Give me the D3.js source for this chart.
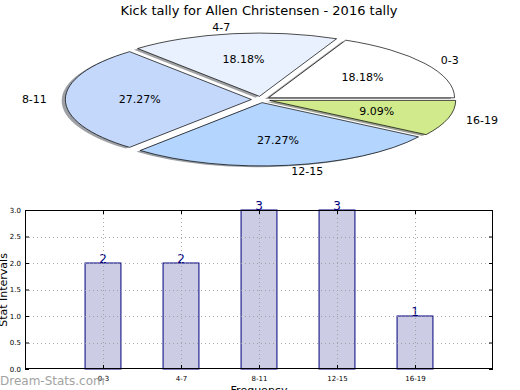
<!DOCTYPE html>
<html><head><meta charset="utf-8">
<script src="https://cdn.jsdelivr.net/npm/d3@7"></script>
<style>body{margin:0;background:#fff}svg{display:block;font-family:"DejaVu Sans",sans-serif}</style>
</head><body>
<svg id="c" width="520" height="390"></svg>
<script>
const categories = ["0-3", "4-7", "8-11", "12-15", "16-19"];
const values = [2, 2, 3, 3, 1];
const pieColors = ["#ffffff", "#e9f0fe", "#c4d8fc", "#b3d5fe", "#d0ea8c"];
const yTicks = [0, 0.5, 1.0, 1.5, 2.0, 2.5, 3.0];
const title = "Kick tally for Allen Christensen - 2016 tally";

const svg = d3.select("#c");

// ---------- Pie ----------
const cx = 260.75, cy = 99.5, rx = 186, ry = 63.3, explode = 0.05;
const total = d3.sum(values);
const pie = d3.pie().sort(null).value(d => d).startAngle(Math.PI / 2).endAngle(Math.PI / 2 - 2 * Math.PI);
const arcs = pie(values);
const arc = d3.arc().innerRadius(0).outerRadius(1);
const pg = svg.append("g").attr("transform", `translate(${cx},${cy}) scale(${rx},${ry})`);
function off(d) {
  const m = (d.startAngle + d.endAngle) / 2;
  return [Math.sin(m) * explode, -Math.cos(m) * explode];
}
function shade(c) { const k = d3.rgb(c); return d3.rgb(k.r * 0.3, k.g * 0.3, k.b * 0.3); }
// shadows
pg.selectAll("path.sh").data(arcs).join("path").attr("class", "sh")
  .attr("d", arc)
  .attr("transform", d => { const o = off(d); return `translate(${o[0] - 0.02},${o[1] + 0.02})`; })
  .attr("fill", (d, i) => shade(pieColors[i])).attr("fill-opacity", 0.5).attr("stroke", "none");
pg.selectAll("path.w").data(arcs).join("path").attr("class", "w")
  .attr("d", arc)
  .attr("transform", d => { const o = off(d); return `translate(${o[0]},${o[1]})`; })
  .attr("fill", (d, i) => pieColors[i]).attr("stroke", "#000").attr("stroke-width", 0.7)
  .attr("vector-effect", "non-scaling-stroke");
// labels
arcs.forEach((d, i) => {
  const m = (d.startAngle + d.endAngle) / 2;
  const ux = Math.sin(m), uy = -Math.cos(m);
  const lx = cx + (1.1 + explode) * rx * ux, ly = cy + (1.1 + explode) * ry * uy;
  svg.append("text").attr("x", lx).attr("y", ly).attr("dy", "0.35em")
    .attr("text-anchor", ux > 0 ? "start" : "end").attr("font-size", 11).attr("fill", "#000")
    .text(categories[i]);
  const px = cx + (0.6 + explode) * rx * ux, py = cy + (0.6 + explode) * ry * uy;
  svg.append("text").attr("x", px).attr("y", py).attr("dy", "0.35em")
    .attr("text-anchor", "middle").attr("font-size", 11).attr("fill", "#000")
    .text((values[i] / total * 100).toFixed(2) + "%");
});
svg.append("text").attr("x", 259).attr("y", 15).attr("text-anchor", "middle")
  .attr("font-size", 13).attr("fill", "#000").text(title);

// ---------- Bar chart ----------
const L = 25, R = 493, T = 210, B = 369;
const x = d3.scaleLinear().domain([-1, categories.length]).range([L, R]);
const y = d3.scaleLinear().domain([0, 3]).range([B, T]);
const bw = (x(1) - x(0)) * 0.46;
const bg = svg.append("g");
bg.selectAll("rect.bar").data(values).join("rect").attr("class", "bar")
  .attr("x", (d, i) => x(i) - bw / 2).attr("y", d => y(d))
  .attr("width", bw).attr("height", d => y(0) - y(d))
  .attr("fill", "#ccccE5").attr("stroke", "#000080").attr("stroke-width", 1);
// grid
const grid = svg.append("g").attr("stroke", "#9a9a9a").attr("stroke-width", 1).attr("stroke-dasharray", "1,3").attr("opacity", 0.85);
yTicks.slice(1, -1).forEach(t => grid.append("line").attr("x1", L).attr("x2", R).attr("y1", Math.round(y(t)) + 0.5).attr("y2", Math.round(y(t)) + 0.5));
categories.forEach((c, i) => grid.append("line").attr("x1", Math.round(x(i)) + 0.5).attr("x2", Math.round(x(i)) + 0.5).attr("y1", T).attr("y2", B));
// frame
svg.append("rect").attr("x", L + 0.5).attr("y", T + 0.5).attr("width", R - L - 1).attr("height", B - T - 1)
  .attr("fill", "none").attr("stroke", "#000").attr("stroke-width", 1);
// axes
const ya = svg.append("g").attr("transform", `translate(${L},0)`)
  .call(d3.axisLeft(y).tickValues(yTicks).tickFormat(d3.format(".1f")).tickSizeInner(-4).tickSizeOuter(0).tickPadding(4));
const ya2 = svg.append("g").attr("transform", `translate(${R},0)`)
  .call(d3.axisRight(y).tickValues(yTicks).tickFormat("").tickSizeInner(-4).tickSizeOuter(0));
const xa = svg.append("g").attr("transform", `translate(0,${B})`)
  .call(d3.axisBottom(x).tickValues(d3.range(categories.length)).tickFormat(i => categories[i]).tickSizeInner(-4).tickSizeOuter(0).tickPadding(7));
const xa2 = svg.append("g").attr("transform", `translate(0,${T})`)
  .call(d3.axisTop(x).tickValues(d3.range(categories.length)).tickFormat("").tickSizeInner(-4).tickSizeOuter(0));
[ya, ya2, xa, xa2].forEach(a => { a.select(".domain").remove(); a.selectAll("text").attr("font-size", 7).attr("font-family", "DejaVu Sans").attr("fill", "#000"); a.selectAll("line").attr("stroke", "#000"); });
// value labels
bg.selectAll("text.v").data(values).join("text").attr("class", "v")
  .attr("x", (d, i) => x(i)).attr("y", d => y(d)).attr("text-anchor", "middle")
  .attr("font-size", 12).attr("fill", "#000080").text(d => d);
svg.append("text").attr("x", 259).attr("y", 394).attr("text-anchor", "middle").attr("font-size", 11).text("Frequency");
svg.append("text").attr("transform", "translate(7,290) rotate(-90)").attr("text-anchor", "middle").attr("font-size", 11).text("Stat Intervals");
svg.append("text").attr("x", 0).attr("y", 385).attr("font-size", 12).attr("fill", "#999").attr("opacity", 0.9).text("Dream-Stats.com");
</script>
</body></html>
